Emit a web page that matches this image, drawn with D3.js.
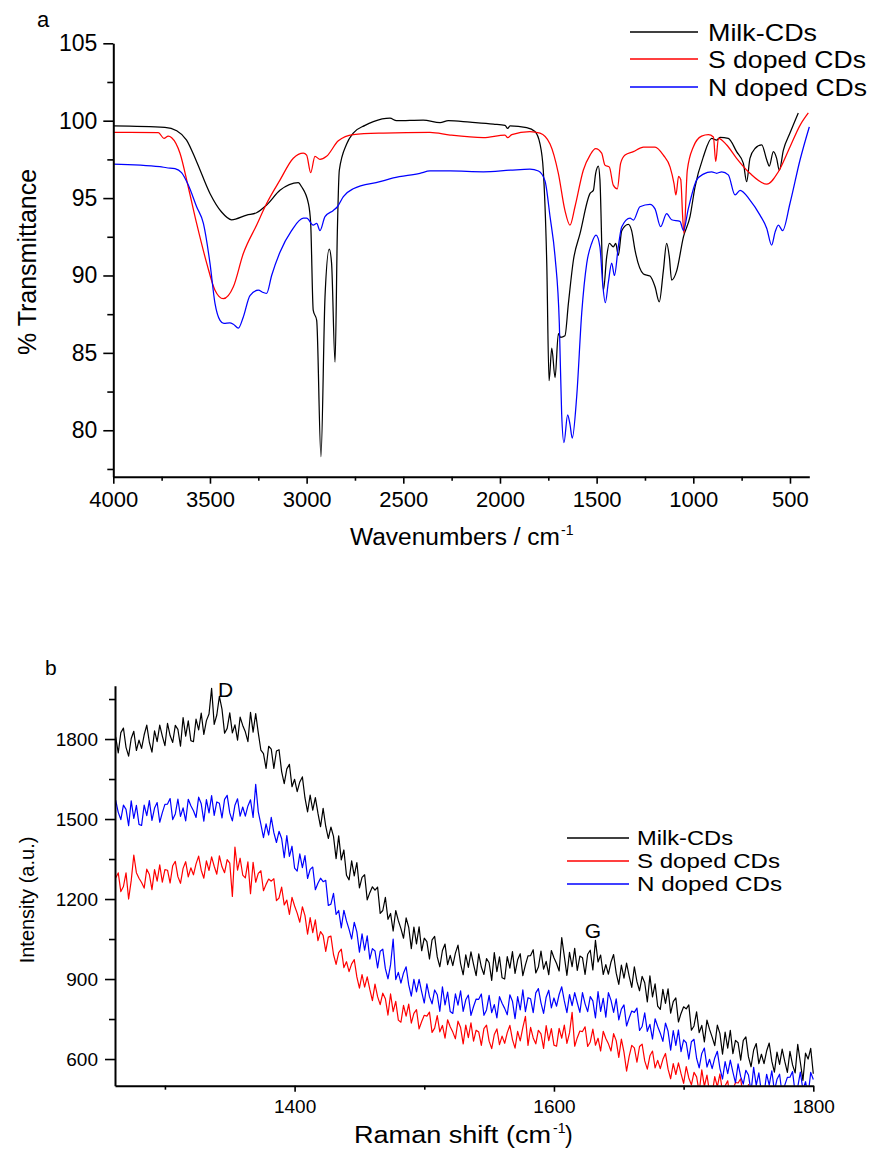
<!DOCTYPE html>
<html>
<head>
<meta charset="utf-8">
<script src="https://cdn.jsdelivr.net/npm/d3@7"></script>
<style>
  body { margin: 0; background: #fff; }
  svg text { font-family: "Liberation Sans", Arial, sans-serif; fill: #000; }
</style>
</head>
<body>
<svg id="chart" width="873" height="1155"></svg>
<script>
// ---------- panel a : FTIR (wavenumber, % transmittance) ----------
const milkIrX = [4000,3733,3672,3621,3569,3500,3440,3388,3310,3259,3207,3138,3043,3026,2991,2979,2966,2948,2926,2905,
  2883,2871,2853,2841,2831,2793,2759,2698,2655,2569,2535,2397,2310,2267,2155,2034,1974,1960,1948,1862,
  1819,1793,1776,1758,1746,1732,1715,1698,1686,1664,1646,1620,1586,1534,1517,1505,1491,1483,1465,1448,
  1434,1414,1401,1388,1370,1336,1319,1301,1258,1224,1198,1176,1155,1138,1124,1112,1086,1051,1017,991,
  948,905,879,862,819,776,741,724,707,681,646,620,607,586,569,555,534,500,457];
const milkIrY = [99.66,99.57,99.35,98.75,97.35,95.3,94.1,93.6,93.9,94.05,94.55,95.5,96.0,95.73,94.66,93.36,87.76,87.1,78.3,88.6,
  91.7,90.8,84.4,92.9,96.8,98.5,99.2,99.7,99.94,100.16,100.0,100.04,99.87,100.0,99.9,99.78,99.7,99.5,99.66,99.55,
  99.3,98.5,96.8,90.8,83.2,85.3,83.4,86.25,86.0,86.1,88.2,91.0,92.7,95.3,95.5,96.6,97.07,96.2,89.05,91.2,
  92.07,91.85,92.07,91.3,92.9,93.3,92.9,91.6,90.1,89.96,89.27,88.3,90.3,92.07,91.2,89.7,90.3,92.5,93.8,95.73,
  97.67,98.86,98.75,98.92,98.86,98.0,97.24,96.06,97.57,98.2,98.43,97.46,97.07,98.0,97.57,96.8,98.1,99.2,100.5];

const sIrX = [4000,3767,3738,3716,3698,3655,3612,3569,3517,3474,3431,3379,3328,3259,3207,3138,3069,3017,3000,2979,
  2957,2931,2897,2836,2759,2603,2362,2258,2086,1974,1960,1939,1845,1793,1741,1698,1664,1638,1612,1569,
  1534,1505,1474,1457,1434,1414,1393,1376,1353,1310,1258,1198,1155,1120,1100,1090,1076,1065,1055,1048,
  1031,1000,957,922,896,884,870,827,776,707,620,560,500,448,405];
const sIrY = [99.25,99.23,98.86,99.0,98.9,97.9,95.7,93.36,90.8,89.05,88.5,89.27,91.4,93.25,94.65,96.16,97.57,97.9,97.78,96.64,
  97.7,97.5,97.7,98.7,99.1,99.2,99.25,99.07,98.9,99.07,98.9,99.1,99.3,99.2,98.5,96.6,94.2,93.25,94.44,96.8,
  97.78,98.2,97.9,97.13,97.0,95.84,95.6,97.24,97.78,98.0,98.3,98.3,97.78,97.0,95.95,95.2,96.4,96.2,93.8,92.7,
  96.8,98.3,99.0,99.1,98.95,97.35,98.86,98.43,97.57,96.6,95.9,96.7,98.3,99.7,100.5];

const nIrX = [4000,3759,3724,3681,3647,3612,3569,3534,3500,3474,3448,3428,3397,3379,3353,3328,3293,3250,3224,3207,
  3181,3138,3078,3017,3000,2966,2948,2931,2905,2862,2841,2810,2759,2621,2552,2414,2362,2258,2086,1948,
  1845,1801,1767,1741,1715,1693,1681,1669,1650,1638,1626,1603,1577,1551,1526,1503,1483,1469,1455,1440,
  1422,1408,1388,1370,1327,1310,1276,1224,1198,1169,1138,1112,1069,1051,1026,983,948,905,879,853,
  819,784,758,707,655,620,595,577,560,538,500,448,400];
const nIrY = [97.2,97.03,96.96,96.9,96.64,95.84,94.44,93.36,90.8,88.2,87.1,86.9,86.94,86.85,86.6,87.3,88.7,89.05,88.9,88.84,
  90.0,91.5,92.9,93.7,93.7,93.25,93.36,92.9,93.8,94.2,94.44,95.1,95.6,96.06,96.3,96.6,96.75,96.75,96.7,96.8,
  96.87,96.75,96.1,93.8,91.2,86.9,81.1,79.2,81.0,80.4,79.5,82.2,87.6,90.8,92.07,92.6,91.85,89.5,88.24,89.5,
  90.8,90.0,91.85,93.15,93.7,93.58,94.44,94.6,94.3,93.15,94.0,93.6,93.5,92.9,94.3,96.16,96.55,96.7,96.6,96.7,
  96.5,95.2,95.5,94.87,93.9,93.04,91.96,92.8,93.25,92.9,94.65,97.46,99.6];

const irXTicks = [4000, 3500, 3000, 2500, 2000, 1500, 1000, 500];
const irYTicks = [80, 85, 90, 95, 100, 105];

// ---------- panel b : Raman (shift, intensity) ----------
const ramanShift = [
  1262,1264,1266,1268,1270,1272,1274,1276,1278,1280, 1282,1284,1286,1288,1290,1292,1294,1296,1298,1300,
  1302,1304,1306,1308,1310,1312,1314,1316,1318,1320, 1322,1324,1326,1328,1330,1332,1334,1336,1338,1340,
  1342,1344,1346,1348,1350,1352,1354,1356,1358,1360, 1362,1364,1366,1368,1370,1372,1374,1376,1378,1380,
  1382,1384,1386,1388,1390,1392,1394,1396,1398,1400, 1402,1404,1406,1408,1410,1412,1414,1416,1418,1420,
  1422,1424,1426,1428,1430,1432,1434,1436,1438,1440, 1442,1444,1446,1448,1450,1452,1454,1456,1458,1460,
  1462,1464,1466,1468,1470,1472,1474,1476,1478,1480, 1482,1484,1486,1488,1490,1492,1494,1496,1498,1500,
  1502,1504,1506,1508,1510,1512,1514,1516,1518,1520, 1522,1524,1526,1528,1530,1532,1534,1536,1538,1540,
  1542,1544,1546,1548,1550,1552,1554,1556,1558,1560, 1562,1564,1566,1568,1570,1572,1574,1576,1578,1580,
  1582,1584,1586,1588,1590,1592,1594,1596,1598,1600, 1602,1604,1606,1608,1610,1612,1614,1616,1618,1620,
  1622,1624,1626,1628,1630,1632,1634,1636,1638,1640, 1642,1644,1646,1648,1650,1652,1654,1656,1658,1660,
  1662,1664,1666,1668,1670,1672,1674,1676,1678,1680, 1682,1684,1686,1688,1690,1692,1694,1696,1698,1700,
  1702,1704,1706,1708,1710,1712,1714,1716,1718,1720, 1722,1724,1726,1728,1730,1732,1734,1736,1738,1740,
  1742,1744,1746,1748,1750,1752,1754,1756,1758,1760, 1762,1764,1766,1768,1770,1772,1774,1776,1778,1780,
  1782,1784,1786,1788,1790,1792,1794,1796,1798,1800];
const milkRaman = [
  1808,1748,1824,1841,1769,1736,1802,1829,1757,1796, 1765,1816,1852,1788,1751,1831,1790,1852,1811,1775,
  1859,1813,1787,1851,1836,1773,1880,1811,1868,1794, 1790,1875,1834,1897,1817,1869,1894,1990,1855,1890,
  1960,1912,1822,1840,1898,1823,1853,1796,1882,1851, 1827,1790,1900,1826,1895,1823,1758,1745,1690,1773,
  1762,1690,1755,1760,1678,1633,1688,1705,1621,1649, 1603,1639,1658,1579,1527,1590,1533,1580,1522,1471,
  1540,1473,1427,1470,1435,1351,1437,1347,1384,1289, 1272,1343,1287,1337,1242,1281,1291,1197,1224,1246,
  1233,1245,1146,1157,1206,1124,1146,1080,1157,1119, 1089,1053,1129,1094,1014,1095,1032,1096,1006,1053,
  1040,975,1047,1060,983,946,1007,1031,954,989, 950,997,1027,958,916,991,944,1002,955,913,
  994,945,917,977,961,895,999,928,983,905, 900,984,941,1003,921,972,995,913,953,987,
  988,1010,923,945,1005,937,966,916,1007,980, 958,930,1055,985,914,1000,946,1015,932,986,
  980,917,993,1008,934,1045,964,990,917,954, 918,964,992,922,880,952,903,960,911,869,
  946,890,856,910,886,814,912,833,882,798, 786,861,809,863,772,815,829,739,771,796,
  788,803,708,724,777,699,726,664,746,711, 682,650,727,695,618,701,641,708,620,670,
  661,596,670,683,608,571,634,658,583,618, 583,630,660,592,551,626,580,637,591,550,
  629,578,548,655,588,520,622,600,640,545];
const sRaman = [
  1279,1298,1228,1247,1298,1200,1269,1365,1299,1278, 1262,1241,1312,1292,1235,1310,1267,1328,1263,1310,
  1308,1260,1325,1341,1284,1259,1315,1340,1283,1317, 1291,1332,1361,1308,1278,1343,1307,1358,1323,1293,
  1362,1321,1299,1348,1335,1210,1395,1308,1353,1290, 1279,1339,1220,1338,1263,1296,1306,1231,1255,1275,
  1267,1276,1194,1204,1245,1178,1196,1142,1206,1174, 1147,1113,1171,1138,1068,1130,1074,1122,1044,1078,
  1064,1004,1057,1061,992,955,999,1012,943,965, 928,957,973,908,866,917,870,908,861,819,
  881,834,804,847,826,765,844,778,816,746, 738,801,761,806,735,771,785,713,741,764,
  761,776,700,716,763,702,726,678,747,721, 701,676,742,718,657,727,680,736,667,708,
  701,651,714,727,667,639,692,713,654,686, 659,699,726,673,641,704,668,718,760,651,
  719,679,657,708,694,640,725,669,714,652, 648,715,678,727,659,698,775,648,680,705,
  703,721,647,664,712,652,678,630,704,677, 657,630,695,669,606,675,626,555,610,651,
  642,588,647,656,593,562,612,630,567,595, 564,599,621,562,526,583,542,586,545,509,
  572,529,503,550,533,477,559,498,540,474, 469,534,496,544,475,500,518,449,485,512,
  510,526,454,472,504,462,470,430,495,479, 459,436,500,476,410,479,440,491,424,468,
  461,410,470,481,422,380,444,461,406,435];
const nRaman = [
  1571,1525,1498,1552,1536,1475,1568,1502,1551,1480, 1476,1552,1513,1569,1495,1541,1562,1488,1524,1555,
  1556,1577,1498,1519,1575,1510,1542,1493,1574,1550, 1531,1506,1582,1557,1492,1573,1523,1588,1514,1564,
  1559,1504,1574,1589,1523,1493,1552,1576,1511,1545, 1511,1549,1572,1506,1630,1527,1480,1430,1482,1440,
  1506,1449,1412,1454,1427,1355,1438,1360,1398,1316, 1305,1369,1318,1363,1277,1311,1320,1235,1259,1278,
  1265,1270,1176,1181,1221,1142,1157,1092,1158,1118, 1086,1050,1113,1077,1001,1069,1008,1062,975,1014,
  1005,942,1004,1012,939,901,953,1050,898,925, 885,923,946,878,836,899,852,899,852,810,
  882,834,807,859,841,779,871,803,851,778, 771,844,802,856,779,822,840,764,797,825,
  824,844,764,784,839,774,804,754,834,809, 790,766,841,817,751,834,784,859,778,830,
  826,774,848,864,811,771,832,858,792,829, 798,842,871,818,774,842,800,849,811,775,
  849,807,778,834,818,754,853,779,828,757, 849,820,775,826,747,787,803,724,754,780,
  775,791,707,722,773,704,730,675,751,722, 697,666,735,704,633,707,651,709,628,672,
  661,600,665,674,603,567,621,641,570,599, 564,604,629,565,525,590,545,596,551,511,
  582,534,506,558,540,477,569,501,548,475, 469,543,502,556,480,524,543,467,502,531,
  532,553,473,495,551,485,515,465,550,523];

const ramanXTicks = [1400, 1600, 1800];
const ramanYTicks = [600, 900, 1200, 1500, 1800];

const seriesNames = ['Milk-CDs', 'S doped CDs', 'N doped CDs'];
const seriesColors = ['#000000', '#ff0000', '#0000ff'];

const FONT = '"Liberation Sans", Arial, sans-serif';
const svg = d3.select('#chart');

function styleAxis(g, size) {
  g.attr('font-family', FONT).attr('font-size', size);
  g.select('.domain').attr('stroke', '#000').attr('stroke-width', 2);
  g.selectAll('.tick line').attr('stroke', '#000').attr('stroke-width', 1.6);
  g.selectAll('.tick text').attr('fill', '#000');
}

function minorAxis(g) {
  g.select('.domain').remove();
  g.selectAll('.tick line').attr('stroke', '#000').attr('stroke-width', 1.6);
}

// ===================== panel a =====================
const irX = d3.scaleLinear().domain([4000, 400]).range([113.3, 809.3]);
const irY = d3.scaleLinear().domain([77, 105]).range([476.7, 43.3]);

const irLine = d3.line().curve(d3.curveMonotoneX)
  .x(d => irX(d[0]))
  .y(d => irY(d[1]));

const irSeries = [
  d3.zip(milkIrX, milkIrY),
  d3.zip(sIrX, sIrY),
  d3.zip(nIrX, nIrY)
];

const panelA = svg.append('g');

panelA.selectAll('path.ir')
  .data(irSeries)
  .enter().append('path')
  .attr('class', 'ir')
  .attr('fill', 'none')
  .attr('stroke', (d, i) => seriesColors[i])
  .attr('stroke-width', 1.25)
  .attr('d', irLine);

// x axis (minor first, then major)
panelA.append('g')
  .attr('transform', 'translate(0,476.7)')
  .call(d3.axisBottom(irX).tickValues(d3.range(3750, 400, -500)).tickFormat('').tickSize(4))
  .call(minorAxis);
panelA.append('g')
  .attr('transform', 'translate(0,476.7)')
  .call(d3.axisBottom(irX).tickValues(irXTicks).tickFormat(d3.format('d'))
    .tickSize(7).tickPadding(8).tickSizeOuter(0))
  .call(g => styleAxis(g, 22));

// y axis
panelA.append('g')
  .attr('transform', 'translate(113.3,0)')
  .call(d3.axisLeft(irY).tickValues([77.5, 82.5, 87.5, 92.5, 97.5, 102.5]).tickFormat('').tickSize(6))
  .call(minorAxis);
panelA.append('g')
  .attr('transform', 'translate(113.3,0)')
  .call(d3.axisLeft(irY).tickValues(irYTicks).tickFormat(d3.format('d'))
    .tickSize(10).tickPadding(6).tickSizeOuter(0))
  .call(g => styleAxis(g, 23));

panelA.append('text')
  .attr('x', 37).attr('y', 27)
  .attr('font-size', 22)
  .text('a');

panelA.append('text')
  .attr('x', 350).attr('y', 545)
  .attr('font-size', 23)
  .attr('textLength', 210).attr('lengthAdjust', 'spacingAndGlyphs')
  .text('Wavenumbers / cm');
panelA.append('text')
  .attr('x', 561).attr('y', 535)
  .attr('font-size', 14)
  .text('-1');

panelA.append('text')
  .attr('transform', 'translate(36,262) rotate(-90)')
  .attr('text-anchor', 'middle')
  .attr('font-size', 25)
  .text('% Transmittance');

// legend a
const legA = panelA.append('g');
const legAWidths = [109, 158, 159];
seriesNames.forEach((name, i) => {
  const y = [32, 59, 87][i];
  legA.append('line')
    .attr('x1', 630).attr('x2', 698)
    .attr('y1', y).attr('y2', y)
    .attr('stroke', seriesColors[i]).attr('stroke-width', 1.3);
  legA.append('text')
    .attr('x', 708).attr('y', y)
    .attr('dominant-baseline', 'central')
    .attr('font-size', 24)
    .attr('textLength', legAWidths[i]).attr('lengthAdjust', 'spacingAndGlyphs')
    .text(name);
});

// ===================== panel b =====================
const rmX = d3.scaleLinear().domain([1261.5, 1800]).range([115, 813.3]);
const rmY = d3.scaleLinear().domain([500, 2000]).range([1085.7, 685.7]);

svg.append('clipPath').attr('id', 'clipB')
  .append('rect')
  .attr('x', rmX(1261.5)).attr('y', rmY(2000))
  .attr('width', rmX(1800) - rmX(1261.5) + 1)
  .attr('height', rmY(500) - rmY(2000));

const rmLine = d3.line()
  .x(d => rmX(d[0]))
  .y(d => rmY(d[1]));

const rmSeries = [
  d3.zip(ramanShift, milkRaman),
  d3.zip(ramanShift, sRaman),
  d3.zip(ramanShift, nRaman)
];

const panelB = svg.append('g');

panelB.append('g')
  .attr('clip-path', 'url(#clipB)')
  .selectAll('path')
  .data(rmSeries)
  .enter().append('path')
  .attr('fill', 'none')
  .attr('stroke', (d, i) => seriesColors[i])
  .attr('stroke-width', 1.2)
  .attr('stroke-linejoin', 'round')
  .attr('d', rmLine);

panelB.append('g')
  .attr('transform', 'translate(0,1085.7)')
  .call(d3.axisBottom(rmX).tickValues([1300, 1500, 1700]).tickFormat('').tickSize(4))
  .call(minorAxis);
panelB.append('g')
  .attr('transform', 'translate(0,1085.7)')
  .call(d3.axisBottom(rmX).tickValues(ramanXTicks).tickFormat(d3.format('d'))
    .tickSize(6).tickPadding(8).tickSizeOuter(0))
  .call(g => styleAxis(g, 19));

panelB.append('g')
  .attr('transform', 'translate(115,0)')
  .call(d3.axisLeft(rmY).tickValues([750, 1050, 1350, 1650, 1950]).tickFormat('').tickSize(6))
  .call(minorAxis);
panelB.append('g')
  .attr('transform', 'translate(115,0)')
  .call(d3.axisLeft(rmY).tickValues(ramanYTicks).tickFormat(d3.format('d'))
    .tickSize(10).tickPadding(7).tickSizeOuter(0))
  .call(g => styleAxis(g, 19));

panelB.append('text')
  .attr('x', 45).attr('y', 675)
  .attr('font-size', 21)
  .text('b');

panelB.append('text')
  .attr('x', 218).attr('y', 697)
  .attr('font-size', 21)
  .text('D');
panelB.append('text')
  .attr('x', 593).attr('y', 938)
  .attr('font-size', 21)
  .attr('text-anchor', 'middle')
  .text('G');

panelB.append('text')
  .attr('x', 354).attr('y', 1143)
  .attr('font-size', 23)
  .attr('textLength', 197).attr('lengthAdjust', 'spacingAndGlyphs')
  .text('Raman shift (cm');
panelB.append('text')
  .attr('x', 553).attr('y', 1133)
  .attr('font-size', 14)
  .text('-1');
panelB.append('text')
  .attr('x', 565).attr('y', 1143)
  .attr('font-size', 23)
  .text(')');

panelB.append('text')
  .attr('transform', 'translate(34,900) rotate(-90)')
  .attr('text-anchor', 'middle')
  .attr('font-size', 20)
  .text('Intensity (a.u.)');

const legB = panelB.append('g');
const legBWidths = [96, 143, 145];
seriesNames.forEach((name, i) => {
  const y = [838, 861, 884][i];
  legB.append('line')
    .attr('x1', 567).attr('x2', 629)
    .attr('y1', y).attr('y2', y)
    .attr('stroke', seriesColors[i]).attr('stroke-width', 1.3);
  legB.append('text')
    .attr('x', 637).attr('y', y)
    .attr('dominant-baseline', 'central')
    .attr('font-size', 20)
    .attr('textLength', legBWidths[i]).attr('lengthAdjust', 'spacingAndGlyphs')
    .text(name);
});
</script>
</body>
</html>
